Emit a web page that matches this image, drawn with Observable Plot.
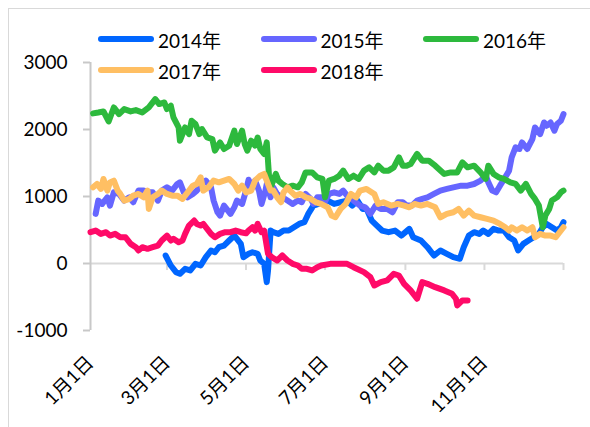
<!DOCTYPE html>
<html>
<head>
<meta charset="utf-8">
<script src="https://cdn.jsdelivr.net/npm/d3@7"></script>
<script src="https://cdn.jsdelivr.net/npm/@observablehq/plot@0.6"></script>
<style>
  html, body { margin: 0; padding: 0; background: #fff; }
  #wrap { position: relative; width: 590px; height: 427px; overflow: hidden; font-family: Lato, "Noto Sans CJK SC", sans-serif; }
  #frame { position: absolute; left: 8px; top: 8px; width: 700px; height: 600px; border-top: 1.5px solid #d9d9d9; border-left: 1.5px solid #d9d9d9; }
  #chart { position: absolute; left: 0; top: 0; }
  .leg { position: absolute; display: flex; align-items: center; height: 24px; font-size: 19px; color: #000; white-space: nowrap; }
  .leg .sw { width: 56px; height: 6px; border-radius: 3px; margin-right: 4px; }
</style>
</head>
<body>
<div id="wrap"><div id="frame"></div><div id="chart"></div><div id="legend"></div></div>
<script>
// ---- data (day of year offset from 1月1日, value) ----
const seriesNames = ["2014年", "2015年", "2016年", "2017年", "2018年"];
const seriesColors = ["#0066ff", "#6666ff", "#2db93d", "#ffbf63", "#ff0a68"];

const days2014 = [58,62,66,69,73,77,81,85,89,93,96,99,103,107,111,113,116,118,122,125,129,131,134,136,137,139,141,145,149,153,157,161,165,168,172,176,177,183,188,193,198,202,206,210,213,217,221,225,230,235,240,246,249,255,260,265,270,275,280,285,288,292,296,300,303,307,311,315,319,323,327,330,334,338,342,346,349,352,356,360,363,365];
const values2014 = [119,-30,-130,-154,-79,-104,-5,-30,94,194,168,243,268,343,417,368,293,94,144,168,144,45,-5,-278,-104,492,467,442,492,492,541,591,616,740,864,889,964,939,889,914,939,864,939,815,815,641,566,492,467,492,417,517,392,343,243,119,194,144,94,70,243,417,467,442,492,442,517,492,492,392,343,194,293,343,392,442,541,591,541,492,541,616];

const days2015 = [4,6,9,13,15,18,22,26,30,33,37,41,44,48,52,55,59,63,67,69,72,75,79,82,85,89,93,95,98,100,103,105,108,111,113,117,120,122,125,127,130,132,135,136,139,141,144,148,152,156,160,163,166,170,172,175,178,180,184,188,192,195,199,203,208,212,216,220,224,229,233,237,241,244,248,252,256,260,265,270,275,280,286,291,296,301,305,307,310,313,316,320,323,325,328,331,333,337,341,343,347,350,352,355,358,360,363,365];
const values2015 = [741,939,889,988,864,1062,1038,939,988,914,1088,1088,1062,1062,939,1088,1137,1088,1187,1211,1062,988,1038,1088,1162,1237,1137,939,765,715,864,815,741,839,939,889,1088,1250,1137,1237,1088,889,1088,1187,988,1137,1038,988,939,889,939,914,1038,964,889,988,988,889,1038,1062,1038,1088,988,939,864,839,741,864,815,815,765,914,914,864,864,939,964,988,1038,1088,1113,1137,1162,1162,1187,1237,1311,1211,1088,1062,1162,1286,1386,1584,1733,1709,1807,1709,1858,2031,1932,2105,2056,2105,1982,2082,2131,2230];

const days2016 = [2,6,10,14,18,22,26,31,35,40,45,50,53,57,59,62,64,68,69,73,76,78,81,84,86,90,94,96,100,103,107,111,113,117,119,121,124,127,129,131,134,136,138,139,143,145,148,152,156,160,163,166,171,175,179,181,184,188,192,195,199,203,207,211,215,219,222,226,230,234,238,241,244,247,252,256,261,266,273,278,283,287,291,296,301,305,307,311,315,319,324,328,332,336,340,343,346,349,351,354,356,360,363,365];
const values2016 = [2240,2254,2270,2120,2329,2230,2305,2270,2290,2254,2329,2454,2380,2403,2305,2354,2180,2031,1833,2031,1932,2131,2082,1932,2007,1882,1858,1684,1807,1709,1758,1982,1783,1982,1783,1685,1833,1760,1880,1710,1635,1808,1237,1137,1337,1237,1187,1137,1162,1137,1211,1360,1360,1286,1262,988,1237,1262,1311,1386,1262,1311,1262,1386,1435,1360,1460,1386,1386,1435,1584,1460,1460,1485,1635,1535,1535,1460,1337,1360,1360,1510,1435,1460,1360,1262,1460,1337,1286,1262,1211,1187,1088,1187,1039,964,864,541,715,815,939,988,1062,1088];

const days2017 = [2,5,8,10,13,15,18,21,23,26,30,33,37,41,44,45,48,52,55,59,63,67,71,75,79,82,85,87,91,95,99,103,107,111,114,117,120,124,127,131,134,136,139,141,144,147,149,152,154,158,162,166,170,174,178,183,186,189,193,197,201,205,208,213,219,222,226,232,237,242,246,250,255,260,266,270,275,280,284,288,292,296,301,306,311,316,320,323,325,329,333,337,341,343,347,351,355,359,362,365];
const values2017 = [1137,1187,1113,1262,1088,1211,1237,1088,1038,939,964,1013,1038,988,1088,815,988,1038,1088,1038,1013,1013,964,1062,1162,1187,1286,1088,1137,1237,1211,1237,1262,1187,1088,1162,1062,1088,1237,1311,1337,1237,1088,1088,988,914,1062,1137,1088,1013,1038,988,964,914,890,839,715,690,815,889,1038,988,1088,1113,1038,889,914,864,889,864,839,889,864,889,839,690,741,765,815,715,790,715,690,666,641,591,541,492,541,492,541,492,541,392,442,417,417,392,467,541];

const days2018 = [0,4,8,12,15,19,23,27,31,35,37,40,44,48,52,55,59,62,64,68,71,73,76,80,82,85,87,90,93,96,100,104,108,112,116,120,122,125,127,129,132,134,137,140,144,148,152,156,160,163,167,171,175,178,185,193,198,203,211,216,219,224,229,234,238,242,247,252,256,260,266,273,279,282,283,287,291];
const values2018 = [467,492,442,467,417,442,392,392,293,243,194,243,219,243,268,343,417,343,368,318,343,442,566,641,591,566,591,517,442,392,442,467,467,492,467,450,492,541,492,591,467,492,144,94,45,119,45,-5,-30,-79,-79,-104,-55,-30,-5,-5,-5,-55,-129,-204,-328,-278,-253,-154,-179,-303,-402,-526,-278,-303,-353,-402,-452,-526,-626,-551,-551];

const yTicks = [-1000, 0, 1000, 2000, 3000];
const xTickDays = [0, 59, 120, 181, 243, 304];
const xTickLabels = ["1月1日", "3月1日", "5月1日", "7月1日", "9月1日", "11月1日"];
const xMarkDays = [59, 120, 181, 243, 304, 365];

// ---- build table ----
const start = Date.UTC(2018, 0, 1);
const toDate = d => new Date(start + d * 864e5);
const allDays = [days2014, days2015, days2016, days2017, days2018];
const allValues = [values2014, values2015, values2016, values2017, values2018];
const rows = [];
seriesNames.forEach((name, i) => {
  allDays[i].forEach((d, j) => rows.push({series: name, date: toDate(d), value: allValues[i][j]}));
});

const chart = Plot.plot({
  width: 590,
  height: 427,
  marginLeft: 90,
  marginRight: 27,
  marginTop: 62,
  marginBottom: 97,
  style: {fontFamily: 'Lato, "Noto Sans CJK SC", sans-serif', fontSize: "19px", color: "#000", background: "transparent"},
  x: {type: "utc", domain: [toDate(0), toDate(365)], label: null},
  y: {domain: [-1000, 3000], label: null},
  color: {domain: seriesNames, range: seriesColors},
  marks: [
    Plot.ruleY([0], {stroke: "#d9d9d9", strokeWidth: 2}),
    Plot.ruleX(xMarkDays.map(toDate), {y1: 0, y2: -105, stroke: "#d9d9d9", strokeWidth: 2}),
    Plot.ruleX([toDate(0)], {y1: -1000, y2: 3000, stroke: "#c8c8c8", strokeWidth: 2}),
    Plot.axisY({ticks: yTicks, label: null, tickSize: 7, tickPadding: 16, stroke: "#c8c8c8", strokeWidth: 2, fill: "#000", tickFormat: d => String(d)}),
    Plot.axisX({ticks: xTickDays.map(toDate), label: null, tickFormat: (d, i) => xTickLabels[i], tickSize: 0, tickPadding: 29, tickRotate: -45, textAnchor: "end", lineAnchor: "middle", fill: "#000"}),
    Plot.line(rows, {x: "date", y: "value", z: "series", stroke: "series", strokeWidth: 6, strokeLinecap: "round", strokeLinejoin: "round"})
  ]
});
document.getElementById("chart").appendChild(chart);

// ---- legend ----
const legend = document.getElementById("legend");
seriesNames.forEach((name, i) => {
  const col = i % 3, row = Math.floor(i / 3);
  const item = document.createElement("div");
  item.className = "leg";
  item.style.left = (98 + col * 162.5) + "px";
  item.style.top = (39 - 12 + row * 31) + "px";
  const sw = document.createElement("div");
  sw.className = "sw";
  sw.style.background = seriesColors[i];
  const tx = document.createElement("span");
  tx.textContent = name;
  item.appendChild(sw);
  item.appendChild(tx);
  legend.appendChild(item);
});
</script>
</body>
</html>
